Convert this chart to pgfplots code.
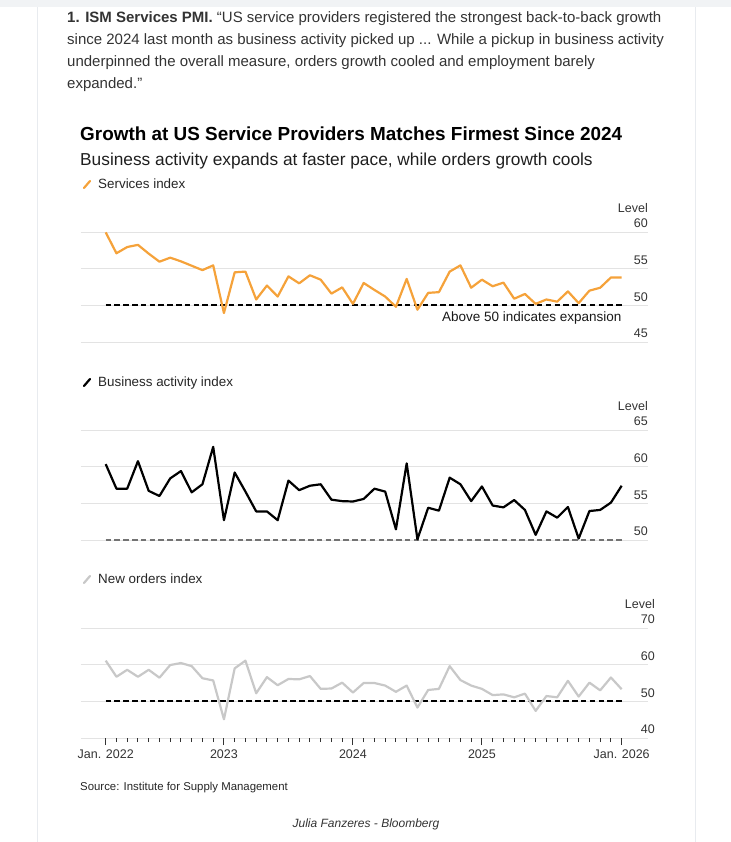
\documentclass[border=0pt]{standalone}
\usepackage{fontspec}
\setmainfont{Liberation Sans}
\usepackage{pgfplots}
\pgfplotsset{compat=1.18}

\definecolor{txt}{HTML}{333333}
\definecolor{tickc}{HTML}{333333}
\definecolor{gridc}{HTML}{E3E3E3}
\definecolor{servc}{HTML}{F5A23A}
\definecolor{ordc}{HTML}{C8C8C8}
\definecolor{framec}{HTML}{E8EBEF}

% monthly index, 0 = Jan. 2022 ... 48 = Jan. 2026
\pgfplotstableread{
x y
0 59.95
1 57.1
2 57.95
3 58.25
4 57.05
5 55.95
6 56.5
7 56.0
8 55.4
9 54.8
10 55.45
11 48.95
12 54.5
13 54.6
14 50.8
15 52.7
16 51.2
17 53.95
18 53.0
19 54.1
20 53.5
21 51.6
22 52.45
23 50.2
24 53.05
25 52.1
26 51.2
27 49.8
28 53.6
29 49.4
30 51.7
31 51.8
32 54.6
33 55.45
34 52.4
35 53.5
36 52.6
37 53.1
38 50.9
39 51.55
40 50.2
41 50.8
42 50.5
43 51.9
44 50.3
45 52.0
46 52.4
47 53.8
48 53.8
}\services

\pgfplotstableread{
x y
0 60.35
1 57.0
2 57.0
3 60.75
4 56.7
5 56.0
6 58.4
7 59.4
8 56.5
9 57.6
10 62.7
11 52.7
12 59.2
13 56.6
14 53.9
15 53.9
16 52.7
17 58.1
18 56.8
19 57.4
20 57.6
21 55.5
22 55.3
23 55.25
24 55.6
25 57.0
26 56.6
27 51.45
28 60.45
29 50.1
30 54.4
31 54.0
32 58.5
33 57.6
34 55.3
35 57.3
36 54.7
37 54.45
38 55.45
39 54.1
40 50.7
41 53.9
42 53.05
43 54.5
44 50.2
45 53.95
46 54.1
47 55.1
48 57.4
}\business

\pgfplotstableread{
x y
0 61.1
1 56.7
2 58.6
3 56.7
4 58.6
5 56.45
6 59.9
7 60.45
8 59.6
9 56.3
10 55.7
11 45.1
12 59.0
13 61.1
14 52.2
15 56.6
16 54.4
17 56.1
18 56.0
19 56.9
20 53.4
21 53.5
22 55.1
23 52.4
24 55.0
25 55.0
26 54.3
27 52.6
28 54.3
29 48.3
30 53.1
31 53.4
32 59.6
33 55.8
34 54.3
35 53.4
36 51.7
37 51.9
38 51.1
39 52.1
40 47.4
41 51.45
42 51.1
43 55.6
44 51.3
45 55.1
46 53.0
47 56.5
48 53.3
}\orders

\pgfplotsset{
  panel/.style={
    scale only axis, width=567.5bp, height=110bp, anchor=south west,
    xmin=-2.344, xmax=50.45,
    axis line style={draw=none},
    ymajorgrids, major grid style={draw=gridc, line width=1bp},
    xtick=\empty,
    ytick style={draw=none},
    yticklabel pos=right,
    yticklabel style={anchor=south east, inner xsep=0pt, inner ysep=0pt,
      yshift=4bp, align=right, text=tickc,
      font=\fontsize{12.5bp}{15bp}\selectfont},
    /pgf/number format/assume math mode=true,
    clip=false,
  },
  series/.style={line width=2.2bp, line join=round, mark=none},
  fifty/.style={line width=2bp, dash pattern=on 5.5bp off 3.3bp},
}

\begin{document}
\begin{tikzpicture}
\path[use as bounding box] (0,0) rectangle (731bp,-842bp);
\fill[framec!60] (0,0) rectangle (731bp,-7bp);
\draw[framec, line width=1bp] (37bp,-7bp) -- (37bp,-842bp);
\draw[framec, line width=1bp] (695bp,-7bp) -- (695bp,-842bp);

% intro paragraph
\begin{scope}[every node/.style={anchor=base west, inner sep=0pt, text=txt,
    font=\fontsize{15bp}{22bp}\selectfont}]
\node at (67bp,-22bp) {\textbf{1. ISM Services PMI.} “US service providers registered the strongest back-to-back growth};
\node at (67bp,-44bp) {since 2024 last month as business activity picked up ... While a pickup in business activity};
\node at (67bp,-66bp) {underpinned the overall measure, orders growth cooled and employment barely};
\node at (67bp,-88bp) {expanded.”};
\end{scope}

% headings
\node[anchor=base west, inner sep=0pt, font=\fontsize{18.9bp}{22bp}\selectfont\bfseries]
  at (80bp,-140bp) {Growth at US Service Providers Matches Firmest Since 2024};
\node[anchor=base west, inner sep=0pt, text=black!88, font=\fontsize{17.3bp}{20bp}\selectfont]
  at (80bp,-165bp) {Business activity expands at faster pace, while orders growth cools};

% legend keys
\begin{scope}[every node/.style={anchor=base west, inner sep=0pt, text=black!85,
    font=\fontsize{13.4bp}{15bp}\selectfont}]
\draw[servc, line width=2.2bp, line cap=round] (84bp,-188bp) -- (90bp,-181bp);
\node at (98bp,-188bp) {Services index};
\draw[black, line width=2.2bp, line cap=round] (84bp,-386bp) -- (90bp,-379bp);
\node at (98bp,-386bp) {Business activity index};
\draw[ordc, line width=2.2bp, line cap=round] (84bp,-583bp) -- (90bp,-576bp);
\node at (98bp,-583bp) {New orders index};
\end{scope}

% panel 1: services
\begin{axis}[panel, at={(80.5bp,-342bp)}, ymin=45, ymax=60,
  ytick={45,50,55,60}, yticklabels={45,50,55,{Level\\60}}]
\addplot[black, fifty] coordinates {(0,50) (48,50)};
\addplot[series, servc] table[x=x, y=y] {\services};
\node[anchor=north east, inner sep=0pt, text=black!90, font=\fontsize{13.5bp}{15bp}\selectfont]
  at (axis cs:48,49.1) {Above 50 indicates expansion};
\end{axis}

% panel 2: business activity
\begin{axis}[panel, at={(80.5bp,-540bp)}, ymin=50, ymax=65,
  ytick={50,55,60,65}, yticklabels={50,55,60,{Level\\65}}]
\addplot[black!55, line width=1.4bp, dash pattern=on 5.5bp off 3.3bp] coordinates {(0,50) (48,50)};
\addplot[series, black] table[x=x, y=y] {\business};
\end{axis}

% panel 3: new orders
\begin{axis}[panel, at={(80.5bp,-738bp)}, ymin=40, ymax=70,
  ytick={40,50,60,70}, yticklabels={40,50,60,{Level\\70}},
  xtick={0,11,23,35,48},
  xticklabels={Jan. 2022,2023,2024,2025,Jan. 2026},
  minor xtick={0,...,48},
  xtick pos=bottom, tick align=outside,
  major tick length=7bp, minor tick length=4bp,
  xtick style={draw=tickc, line width=0.9bp},
  xticklabel style={inner sep=0pt, yshift=-5bp, text=tickc,
    font=\fontsize{12.5bp}{15bp}\selectfont}]
\addplot[black, fifty] coordinates {(0,50) (48,50)};
\addplot[series, ordc] table[x=x, y=y] {\orders};
\end{axis}

% footer
\node[anchor=base west, inner sep=0pt, text=black!85, font=\fontsize{11.4bp}{13bp}\selectfont]
  at (80bp,-790bp) {Source: Institute for Supply Management};
\node[anchor=base, inner sep=0pt, text=txt, font=\fontsize{12bp}{13bp}\selectfont\itshape]
  at (366bp,-827bp) {Julia Fanzeres - Bloomberg};
\end{tikzpicture}
\end{document}
